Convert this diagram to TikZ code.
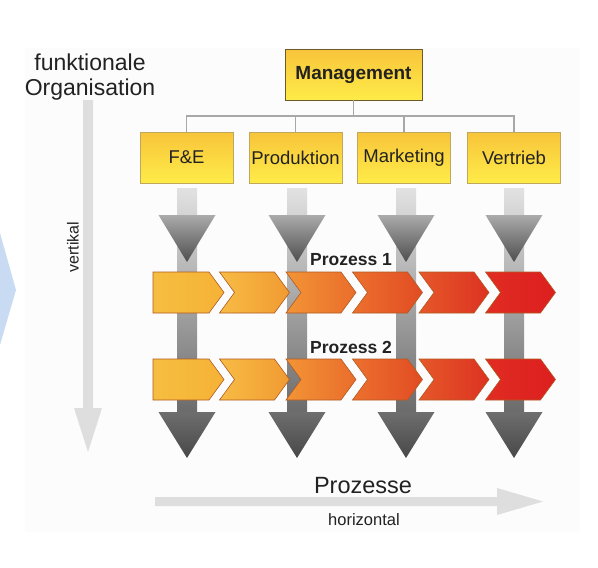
\documentclass[tikz,border=0pt]{standalone}
\usepackage{fontspec}
\setmainfont{Liberation Sans}
\usepackage{tikz}
\pgfdeclarelayer{background}
\pgfsetlayers{background,main}
\definecolor{txt}{HTML}{222222}
\definecolor{boxtop}{HTML}{F8C43A}
\definecolor{boxbot}{HTML}{FEEC48}
\definecolor{deptline}{HTML}{BFA85C}
\definecolor{mgmtline}{HTML}{6B5A2A}
\definecolor{orggray}{HTML}{A8A8A8}
\definecolor{guidegray}{HTML}{DEDEDE}
\definecolor{bluechev}{HTML}{C9DBF3}
\definecolor{panel}{HTML}{FCFCFC}
\definecolor{shaftlight}{HTML}{E2E2E2}
\definecolor{shaftdark}{HTML}{6A6A6A}
\definecolor{headtop}{HTML}{ABABAB}
\definecolor{headtip}{HTML}{4E4E4E}
\definecolor{lowtop}{HTML}{6E6E6E}
\definecolor{lowtip}{HTML}{484848}
\definecolor{chevline}{HTML}{B05A22}
\definecolor{ch0a}{HTML}{F6BE40}\definecolor{ch0b}{HTML}{F5B236}
\definecolor{ch1a}{HTML}{F7BC44}\definecolor{ch1b}{HTML}{F19A32}
\definecolor{ch2a}{HTML}{F29436}\definecolor{ch2b}{HTML}{EA6D2B}
\definecolor{ch3a}{HTML}{EC702E}\definecolor{ch3b}{HTML}{E24C24}
\definecolor{ch4a}{HTML}{E55829}\definecolor{ch4b}{HTML}{DD3222}
\definecolor{ch5a}{HTML}{E12C22}\definecolor{ch5b}{HTML}{DC1F1F}
\tikzstyle{dept}=[draw=deptline, line width=0.8pt, top color=boxtop, bottom color=boxbot,
    minimum width=93pt, minimum height=51pt, inner sep=0pt, outer sep=0pt,
    text=txt, font=\fontsize{18.5}{20}\selectfont]
\tikzstyle{orgline}=[draw=orggray, line width=1.2pt]
\tikzstyle{chev}=[draw=chevline, line width=0.6pt]
\tikzstyle{label}=[text=txt, inner sep=0pt]

\begin{document}
\begin{tikzpicture}[x=1pt,y=-1pt]
  \useasboundingbox (0,0) rectangle (598,568);

  % titles
  \node[label, align=center, font=\fontsize{23}{25}\selectfont] at (90,77) (orga) {funktionale\\Organisation};
  \node[label, rotate=90, font=\fontsize{16}{18}\selectfont] at (73,247) (vert) {vertikal};
  \node[label, font=\fontsize{23.5}{26}\selectfont] at (363,486) (proz) {Prozesse};
  \node[label, font=\fontsize{16.5}{18}\selectfont] at (364,520) (hori) {horizontal};

  % guide arrows
  \fill[guidegray] (83,100) -- (93,100) -- (93,408) -- (102,408) -- (88,452) -- (74,408) -- (83,408) -- cycle;
  \fill[guidegray] (155,497) -- (497,497) -- (497,488) -- (543,501.5) -- (497,515) -- (497,506) -- (155,506) -- cycle;

  % org chart
  \node[draw=mgmtline, line width=1pt, top color=boxtop, bottom color=boxbot, minimum width=137pt,
        minimum height=51pt, inner sep=0pt, outer sep=0pt, text=txt,
        font=\fontsize{19}{21}\selectfont\bfseries] at (353.5,74.5) (mgmt) {Management};
  \node[dept] at (186.5,157.5) (fe) {F\&E};
  \node[dept] at (295.5,157.5) (prod) {Produktion};
  \node[dept] at (404,157.5) (mkt) {Marketing};
  \node[dept] at (514,157.5) (vt) {Vertrieb};
  \foreach \d in {fe,prod,mkt,vt}
    \draw[orgline] (mgmt.south) -- ++(0,16) -| (\d.north);

  % vertical arrows
  \foreach \cx in {187,297,406,514}{
    \shade[top color=shaftlight, bottom color=shaftdark] (\cx-10,188) rectangle (\cx+10,414);
    \shade[top color=headtop, bottom color=headtip] (\cx-28.5,215) -- (\cx+28.5,215) -- (\cx,262) -- cycle;
    \shade[top color=lowtop, bottom color=lowtip] (\cx-28.5,412) -- (\cx+28.5,412) -- (\cx,458) -- cycle;
  }

  % process chains
  \foreach \ty in {272,359}{
    \shadedraw[chev, left color=ch0a, right color=ch0b] (153,\ty) -- ++(56,0) -- ++(15,20.5) -- ++(-15,20.5) -- ++(-56,0) -- cycle;
    \foreach \i/\ca/\cb in {1/ch1a/ch1b,2/ch2a/ch2b,3/ch3a/ch3b,4/ch4a/ch4b,5/ch5a/ch5b}{
      \pgfmathsetmacro\lx{153+66.5*\i}
      \shadedraw[chev, left color=\ca, right color=\cb] (\lx,\ty) -- ++(55,0) -- ++(15,20.5) -- ++(-15,20.5) -- ++(-55,0) -- ++(15,-20.5) -- cycle;
    }
  }
  \node[label, font=\fontsize{17.5}{19}\selectfont\bfseries] at (351,260) (p1) {Prozess 1};
  \node[label, font=\fontsize{17.5}{19}\selectfont\bfseries] at (351,347) (p2) {Prozess 2};

  \begin{pgfonlayer}{background}
    \fill[panel] (25,48) rectangle (580,532);
    \fill[bluechev] (0,233) -- (16,290) -- (0,345) -- cycle;
  \end{pgfonlayer}
\end{tikzpicture}
\end{document}
